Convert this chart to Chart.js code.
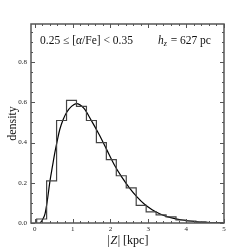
<!DOCTYPE html>
<html>
<head>
  <meta charset="UTF-8" />
  <script src="https://cdn.jsdelivr.net/npm/chart.js"></script>
  <style>
    html, body { margin: 0; padding: 0; background: #fff; }
    #wrap { width: 249px; height: 249px; }
  </style>
</head>
<body>
<div id="wrap"><canvas id="c"></canvas></div>
<script>
  // histogram bin edges and heights
  const binEdges = [0.05, 0.313, 0.576, 0.839, 1.102, 1.365, 1.628, 1.891, 2.154, 2.417,
                    2.68, 2.943, 3.206, 3.469, 3.732, 3.995, 4.258, 4.521, 4.784, 5.047];
  const binHeights = [0.02, 0.21, 0.51, 0.61, 0.58, 0.51, 0.40, 0.315, 0.235, 0.175,
                      0.088, 0.055, 0.04, 0.03, 0.015, 0.01, 0.004, 0.002, 0.0];

  // fitted curve
  const curveX = [0.14, 0.2, 0.27, 0.33, 0.4, 0.47, 0.53, 0.6, 0.66, 0.75, 0.84, 0.97, 1.1, 1.3, 1.5,
                  1.7, 1.9, 2.1, 2.3, 2.5, 2.7, 2.9, 3.1, 3.3, 3.5, 3.7, 3.9, 4.1, 4.3, 4.5, 4.7, 5.0];
  const curveY = [0.0, 0.015, 0.045, 0.11, 0.207, 0.285, 0.35, 0.415, 0.465, 0.515, 0.55, 0.58, 0.594, 0.57, 0.508,
                  0.44, 0.365, 0.29, 0.228, 0.175, 0.13, 0.093, 0.066, 0.046, 0.032, 0.022, 0.015,
                  0.01, 0.006, 0.004, 0.002, 0.001];

  const xTicks = [0, 1, 2, 3, 4, 5];
  const yTicks = [0.0, 0.2, 0.4, 0.6, 0.8];
  const xMinor = [0.2, 0.4, 0.6, 0.8, 1.2, 1.4, 1.6, 1.8, 2.2, 2.4, 2.6, 2.8, 3.2, 3.4, 3.6, 3.8, 4.2, 4.4, 4.6, 4.8];
  const yMinor = [0.05, 0.1, 0.15, 0.25, 0.3, 0.35, 0.45, 0.5, 0.55, 0.65, 0.7, 0.75, 0.85, 0.9, 0.95];

  const serif = '"Liberation Serif", "DejaVu Serif", serif';

  // step outline of the histogram (stepped 'after': each height spans edge i..i+1)
  const histPts = [{ x: binEdges[0], y: 0 }];
  binHeights.forEach((h, i) => histPts.push({ x: binEdges[i + 1], y: h }));

  const curvePts = curveX.map((x, i) => ({ x: x, y: curveY[i] }));

  // frame, inward ticks, x label and annotations
  const decor = {
    id: 'decor',
    afterDraw(chart) {
      const ctx = chart.ctx, a = chart.chartArea;
      const xs = chart.scales.x, ys = chart.scales.y;
      ctx.save();
      ctx.strokeStyle = '#555';
      ctx.lineWidth = 1;
      ctx.beginPath();
      xTicks.forEach(v => {
        const p = Math.round(xs.getPixelForValue(v)) + 0.5;
        ctx.moveTo(p, a.bottom); ctx.lineTo(p, a.bottom - 4);
        ctx.moveTo(p, a.top); ctx.lineTo(p, a.top + 4);
      });
      xMinor.forEach(v => {
        const p = Math.round(xs.getPixelForValue(v)) + 0.5;
        ctx.moveTo(p, a.bottom); ctx.lineTo(p, a.bottom - 2);
        ctx.moveTo(p, a.top); ctx.lineTo(p, a.top + 2);
      });
      yTicks.forEach(v => {
        const p = Math.round(ys.getPixelForValue(v)) + 0.5;
        ctx.moveTo(a.left, p); ctx.lineTo(a.left + 4, p);
        ctx.moveTo(a.right, p); ctx.lineTo(a.right - 4, p);
      });
      yMinor.forEach(v => {
        const p = Math.round(ys.getPixelForValue(v)) + 0.5;
        ctx.moveTo(a.left, p); ctx.lineTo(a.left + 2, p);
        ctx.moveTo(a.right, p); ctx.lineTo(a.right - 2, p);
      });
      ctx.stroke();
      ctx.lineWidth = 1.5;
      ctx.strokeStyle = '#555';
      ctx.strokeRect(a.left, a.top, a.right - a.left, a.bottom - a.top);

      ctx.fillStyle = '#111';
      ctx.textBaseline = 'alphabetic';
      ctx.textAlign = 'left';
      // x axis label: |Z| [kpc]
      const p1 = '|', p2 = 'Z', p3 = '| [kpc]';
      ctx.font = '12px ' + serif;
      const w1 = ctx.measureText(p1).width;
      ctx.font = 'italic 12px ' + serif;
      const w2 = ctx.measureText(p2).width;
      ctx.font = '12px ' + serif;
      const w3 = ctx.measureText(p3).width;
      const x0 = (a.left + a.right) / 2 - (w1 + w2 + w3) / 2;
      const yb = 244;
      ctx.fillText(p1, x0, yb);
      ctx.font = 'italic 12px ' + serif;
      ctx.fillText(p2, x0 + w1 + 0.5, yb);
      ctx.font = '12px ' + serif;
      ctx.fillText(p3, x0 + w1 + w2 + 1, yb);

      // annotation left
      const fs = 11.5;
      ctx.font = fs + 'px ' + serif;
      ctx.fillText('0.25 \u2264 [', 40, 44);
      let w = ctx.measureText('0.25 \u2264 [').width;
      ctx.font = 'italic ' + fs + 'px ' + serif;
      ctx.fillText('\u03b1', 40 + w, 44);
      w += ctx.measureText('\u03b1').width;
      ctx.font = fs + 'px ' + serif;
      ctx.fillText('/Fe] < 0.35', 40 + w, 44);

      // annotation right
      ctx.font = 'italic ' + fs + 'px ' + serif;
      ctx.fillText('h', 158, 44);
      const wh = ctx.measureText('h').width;
      ctx.font = 'italic 8px ' + serif;
      ctx.fillText('z', 158 + wh, 46);
      ctx.font = fs + 'px ' + serif;
      ctx.fillText(' = 627 pc', 158 + wh + 4, 44);
      ctx.restore();
    }
  };

  new Chart(document.getElementById('c'), {
    type: 'scatter',
    data: {
      datasets: [
        {
          data: histPts,
          showLine: true,
          stepped: 'after',
          borderColor: '#444',
          borderWidth: 1.2,
          pointRadius: 0,
          fill: false
        },
        {
          data: curvePts,
          showLine: true,
          cubicInterpolationMode: 'monotone',
          borderColor: '#000',
          borderWidth: 1.2,
          pointRadius: 0,
          fill: false
        }
      ]
    },
    options: {
      responsive: true,
      maintainAspectRatio: false,
      animation: false,
      layout: { padding: { top: 24, right: 25, left: 0, bottom: 0 } },
      plugins: { legend: { display: false }, tooltip: { enabled: false } },
      scales: {
        x: {
          type: 'linear',
          min: -0.1,
          max: 5,
          afterBuildTicks: s => { s.ticks = xTicks.map(v => ({ value: v })); },
          afterFit: s => { s.height = 26; },
          grid: { display: false, drawTicks: false },
          border: { display: false },
          ticks: {
            padding: 2,
            color: '#222',
            font: { family: serif, size: 7 },
            callback: v => String(v),
            maxRotation: 0
          }
        },
        y: {
          type: 'linear',
          min: 0,
          max: 0.99,
          afterBuildTicks: s => { s.ticks = yTicks.map(v => ({ value: v })); },
          afterFit: s => { s.width = 31; },
          grid: { display: false, drawTicks: false },
          border: { display: false },
          title: {
            display: true,
            text: 'density',
            color: '#111',
            font: { family: serif, size: 12 },
            padding: { top: 6, bottom: 0 }
          },
          ticks: {
            padding: 4,
            color: '#222',
            font: { family: serif, size: 7 },
            callback: v => v.toFixed(1)
          }
        }
      }
    },
    plugins: [decor]
  });
</script>
</body>
</html>
